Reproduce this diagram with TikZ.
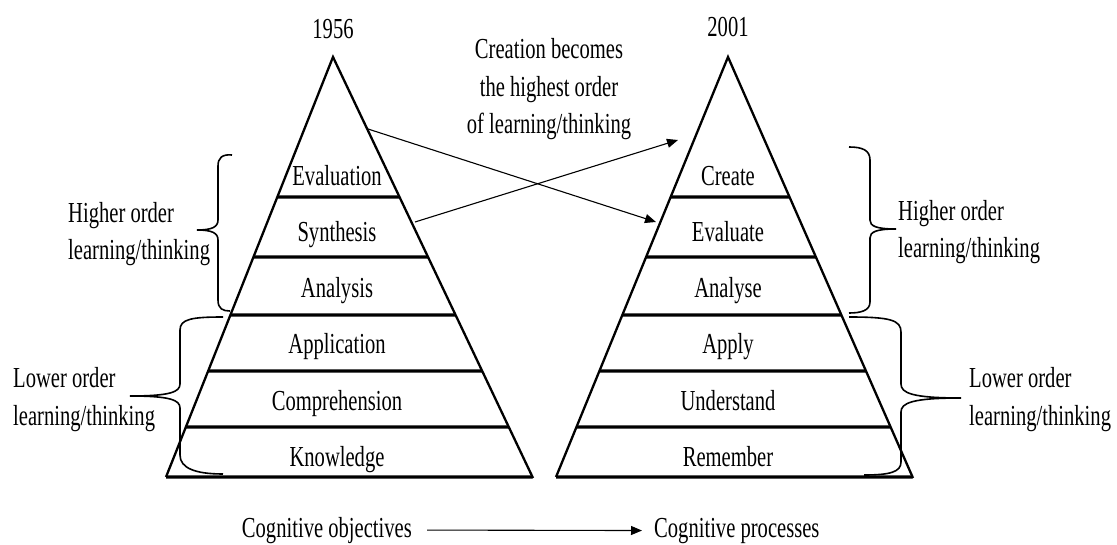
\documentclass[tikz,border=0pt]{standalone}
\usepackage{fontspec}
\setmainfont[FakeStretch=0.71]{Liberation Serif}
\usetikzlibrary{calc,arrows.meta}

\begin{document}
\begin{tikzpicture}[x=1pt, y=-1pt,
        edge/.style={line width=2.3pt, line join=miter},
        layer/.style={line width=3.4pt},
        curly/.style={line width=1.6pt},
        shift arrow/.style={line width=1.1pt, -{Triangle[length=11pt,width=9pt]}},
        lbl/.style={inner sep=0pt, anchor=base},
        side/.style={inner sep=0pt, align=left, anchor=base west},
        font=\fontsize{29}{37.5}\selectfont]
        \useasboundingbox (0,0) rectangle (1117,545);

        % Points
        \coordinate (TL) at (333,57);
        \coordinate (BLa) at (166,477);
        \coordinate (BLb) at (533,478);
        \coordinate (TR) at (728,57);
        \coordinate (BRa) at (556,477);
        \coordinate (BRb) at (913,478);

        % Pyramids and their layers
        \draw[edge] (BLa) -- (TL) -- (BLb);
        \draw[edge] (BRa) -- (TR) -- (BRb);
        \foreach \y in {197,257,315,371,427,477} {
          \draw[layer] ($(TL)!{(\y-57)/420}!(BLa)$) -- ($(TL)!{(\y-57)/421}!(BLb)$);
          \draw[layer] ($(TR)!{(\y-57)/420}!(BRa)$) -- ($(TR)!{(\y-57)/421}!(BRb)$);
        }

        % Level names, old and revised
        \foreach \old/\new [count=\i] in {Evaluation/Create, Synthesis/Evaluate,
            Analysis/Analyse, Application/Apply, Comprehension/Understand, Knowledge/Remember} {
          \node[lbl] (old\i) at (337,130+56*\i) {\old};
          \node[lbl] (new\i) at (728,130+56*\i) {\new};
        }

        \node[lbl] (y1956) at (333,39) {1956};
        \node[lbl] (y2001) at (728,37) {2001};
        % base of a multi-line node is its last line
        \node[lbl, align=center] (shift) at (549,134) {Creation becomes\\the highest order\\of learning/thinking};

        % Crossing arrows
        \coordinate (apexOut) at (368,129);
        \coordinate (synthOut) at (415,222);
        \coordinate (createIn) at (678,140);
        \coordinate (evalIn) at (656,222);
        \draw[shift arrow] (synthOut) -- (createIn);
        \draw[shift arrow] (apexOut) -- (evalIn);

        % Braces, left side
        \draw[curly] (232,155) .. controls (222,154) and (218,158) .. (218,166) -- (218,220)
          .. controls (218,227) and (212,230) .. (197,230) .. controls (212,230) and (218,233) .. (218,240)
          -- (218,300) .. controls (218,309) and (223,311) .. (230,311);
        \draw[curly] (223,317) .. controls (192,317) and (180,319) .. (180,330) -- (180,384)
          .. controls (180,392) and (170,396) .. (130,396) .. controls (170,396) and (180,400) .. (180,408)
          -- (180,455) .. controls (180,468) and (195,474) .. (223,474);
        \node[side] (higherL) at (68,260) {Higher order\\learning/thinking};
        \node[side] (lowerL) at (13,425) {Lower order\\learning/thinking};

        % Braces, right side
        \draw[curly] (849,147) .. controls (862,147) and (870,150) .. (870,160) -- (870,220)
          .. controls (870,226) and (876,229) .. (896,229) .. controls (876,229) and (870,232) .. (870,238)
          -- (870,302) .. controls (870,311) and (860,313) .. (849,313);
        \draw[curly] (849,317) .. controls (890,317) and (901,320) .. (901,332) -- (901,384)
          .. controls (901,393) and (912,398) .. (961,398) .. controls (912,398) and (901,403) .. (901,412)
          -- (901,462) .. controls (901,472) and (890,475) .. (864,475);
        \node[side] (higherR) at (898,258) {Higher order\\learning/thinking};
        \node[side] (lowerR) at (969,425) {Lower order\\learning/thinking};

        % Objectives to processes
        \node[lbl, anchor=base east] (objectives) at (412,537) {Cognitive objectives};
        \node[lbl, anchor=base west] (processes) at (654,537) {Cognitive processes};
        \draw[shift arrow] ([xshift=15pt]objectives.east) -- ([xshift=-12pt]processes.west);
      \end{tikzpicture}
\end{document}
